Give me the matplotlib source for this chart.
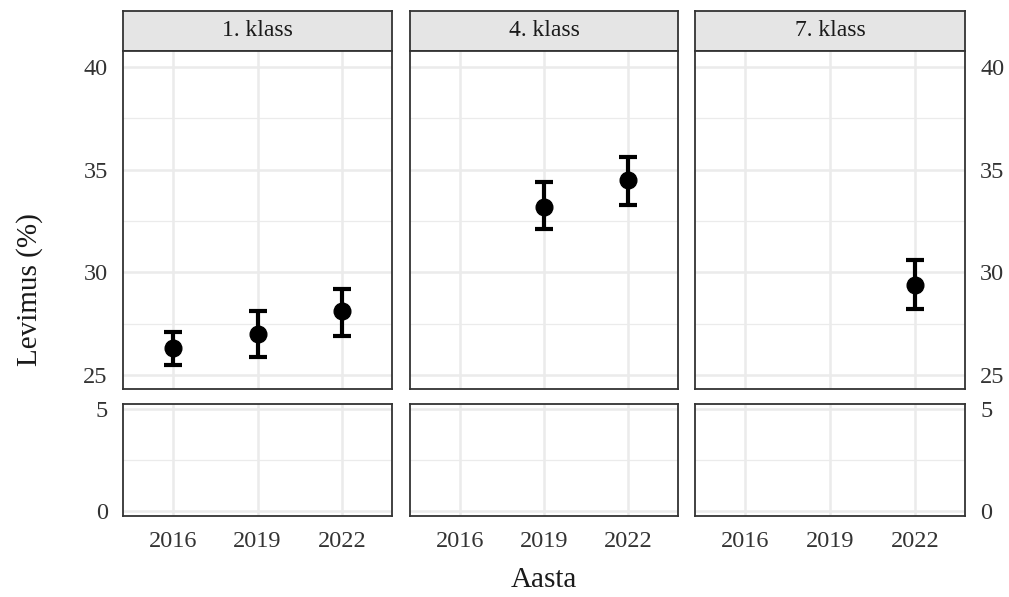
import matplotlib
matplotlib.use("Agg")
import matplotlib.pyplot as plt

plt.rcParams['font.family'] = ['Liberation Serif', 'DejaVu Serif']

panels = ["1. klass", "4. klass", "7. klass"]
years = [2016, 2019, 2022]
years_p1 = [2016, 2019, 2022]
est_p1 = [26.3, 27.0, 28.1]
lo_p1 = [25.5, 25.9, 26.9]
hi_p1 = [27.1, 28.1, 29.2]
years_p2 = [2019, 2022]
est_p2 = [33.2, 34.5]
lo_p2 = [32.1, 33.3]
hi_p2 = [34.4, 35.6]
years_p3 = [2022]
est_p3 = [29.4]
lo_p3 = [28.2]
hi_p3 = [30.6]
data = [(years_p1, est_p1, lo_p1, hi_p1),
        (years_p2, est_p2, lo_p2, hi_p2),
        (years_p3, est_p3, lo_p3, hi_p3)]
top_ticks = [25, 30, 35, 40]
top_minor = [27.5, 32.5, 37.5]
bot_ticks = [0, 5]
bot_minor = [2.5]

W, H = 1009, 597
fig = plt.figure(figsize=(W / 100, H / 100), dpi=100)

def box(x0, x1, y0, y1):
    return [x0 / W, (H - y1) / H, (x1 - x0) / W, (y1 - y0) / H]

xs = [(123, 392), (410, 678), (695, 965)]
strip_y = (11, 51)
top_y = (51, 389)
bot_y = (404, 516)

tick_col = '#333333'
grid_col = '#EBEBEB'
border_col = '#333333'

def style(ax, ticks, minor, ylim, side):
    ax.set_xlim(2014.23, 2023.77)
    ax.set_ylim(*ylim)
    ax.set_xticks(years)
    ax.set_yticks(ticks)
    ax.set_yticks(minor, minor=True)
    ax.set_xticks([], minor=True)
    ax.grid(True, which='major', color=grid_col, linewidth=1.8, zorder=0)
    ax.grid(True, which='minor', axis='y', color=grid_col, linewidth=0.9, zorder=0)
    ax.set_axisbelow(True)
    for s in ax.spines.values():
        s.set_color(border_col)
        s.set_linewidth(1.3)
    ax.tick_params(which='both', length=0, labelsize=17.5, colors=tick_col, pad=11)
    if side == 'left':
        ax.tick_params(labelleft=True, labelright=False)
    elif side == 'right':
        ax.yaxis.tick_right()
        ax.tick_params(labelleft=False, labelright=True)
    else:
        ax.tick_params(labelleft=False, labelright=False)

for i, (x0, x1) in enumerate(xs):
    side = 'left' if i == 0 else ('right' if i == 2 else 'none')
    sax = fig.add_axes(box(x0, x1, *strip_y))
    sax.set_xticks([]); sax.set_yticks([])
    sax.set_facecolor('#E5E5E5')
    for s in sax.spines.values():
        s.set_color(border_col)
        s.set_linewidth(1.3)
    sax.text(0.5, 0.5, panels[i], ha='center', va='center', fontsize=17,
             color='#1A1A1A', transform=sax.transAxes)
    ax = fig.add_axes(box(x0, x1, *top_y))
    style(ax, top_ticks, top_minor, (24.32, 40.78), side)
    ax.tick_params(labelbottom=False)
    yr, est, lo, hi = data[i]
    yerr = [[e - l for e, l in zip(est, lo)], [h - e for e, h in zip(est, hi)]]
    ax.errorbar(yr, est, yerr=yerr, fmt='o', color='black', markersize=12,
                elinewidth=3, capsize=6.5, capthick=3, zorder=3)
    bx = fig.add_axes(box(x0, x1, *bot_y))
    style(bx, bot_ticks, bot_minor, (-0.22, 5.25), side)
    bx.tick_params(axis='x', pad=11)

fig.text(30 / W, 1 - 290 / H, 'Levimus (%)', rotation=90, ha='center', va='center',
         fontsize=21, color='#1A1A1A')
fig.text(544 / W, 1 - 580 / H, 'Aasta', ha='center', va='center',
         fontsize=21, color='#1A1A1A')

fig.savefig('out.png', dpi=100)
